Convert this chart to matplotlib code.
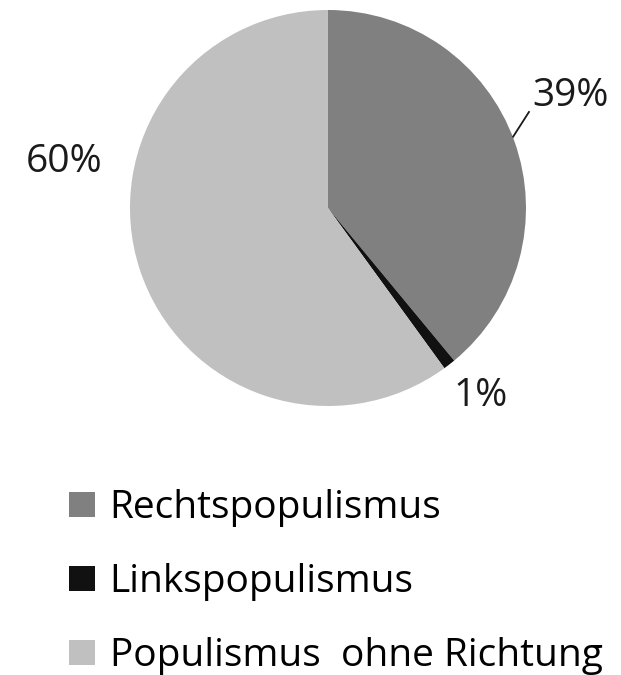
import matplotlib.pyplot as plt
from matplotlib.patches import Patch

# Data
labels = ["Rechtspopulismus", "Linkspopulismus", "Populismus  ohne Richtung"]
shares = [39, 1, 60]
pct_labels = ["39%", "1%", "60%"]
colors = ["#808080", "#111111", "#c0c0c0"]

plt.rcParams['font.family'] = ['Open Sans', 'DejaVu Sans']

fig = plt.figure(figsize=(6.21, 6.75), dpi=100)
ax = fig.add_axes([0.2093, 0.3985, 0.6377, 0.5867])

wedges, _ = ax.pie(shares, colors=colors, startangle=90, counterclock=False,
                   radius=1.0, wedgeprops=dict(linewidth=0))
ax.set_xlim(-1, 1)
ax.set_ylim(-1, 1)
ax.set_aspect('equal')
ax.axis('off')

# percentage labels (data units: radius = 1 -> 198 px)
lab_pos = [(1.227, 0.566), (0.773, -0.949), (-1.333, 0.232)]
for txt, (x, y) in zip(pct_labels, lab_pos):
    ax.text(x, y, txt, ha='center', va='center', fontsize=28, color='#1a1a1a',
            clip_on=False)
# leader line for 39%
ax.plot([0.935, 1.015], [0.36, 0.485], color='#1a1a1a', lw=1.3, clip_on=False)

handles = [Patch(facecolor=c, edgecolor='none') for c in colors]
fig.legend(handles, labels, loc='upper left', bbox_to_anchor=(0.080, 0.304),
           frameon=False, fontsize=28, handlelength=0.67, handleheight=0.62,
           handletextpad=0.37, labelspacing=0.92, borderpad=0)

fig.savefig("out.png", dpi=100)
